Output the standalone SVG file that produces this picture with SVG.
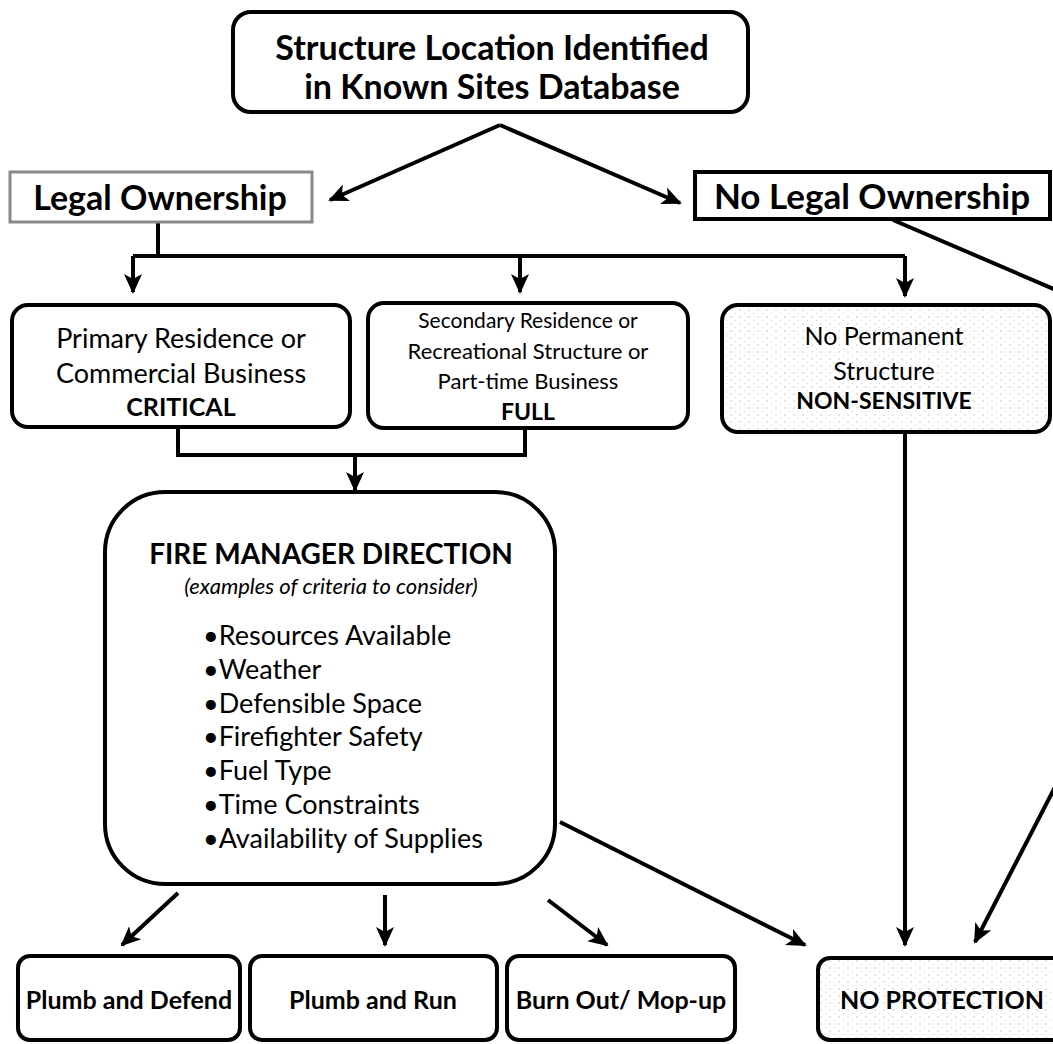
<svg xmlns="http://www.w3.org/2000/svg" width="1053" height="1044" viewBox="0 0 1053 1044">
<defs>
<marker id="ah" viewBox="0 0 20 20" refX="18" refY="10" markerWidth="20" markerHeight="20" markerUnits="userSpaceOnUse" orient="auto">
<path d="M0,1 L20,10 L0,19 L5,10 Z" fill="#000"/>
</marker>
<pattern id="dots" width="9" height="7" patternUnits="userSpaceOnUse">
<rect width="9" height="7" fill="#fff"/>
<circle cx="2" cy="2" r="0.7" fill="#bbb"/>
<circle cx="6.5" cy="5.5" r="0.6" fill="#ccc"/>
</pattern>
<style>
.box{fill:#fff;stroke:#000;stroke-width:4}
.dot{fill:url(#dots);stroke:#000;stroke-width:4}
.t{font-family:Lato,"Liberation Sans",sans-serif;fill:#000;text-anchor:middle}
.b{font-weight:bold}
.i{font-style:italic}
.l{text-anchor:start}
.c{fill:none;stroke:#000;stroke-width:4}
.a{fill:none;stroke:#000;stroke-width:4;marker-end:url(#ah)}
</style>
</defs>
<rect width="1053" height="1044" fill="#fff"/>

<g id="connectors">
<path class="a" d="M500,125 L330,200"/>
<path class="a" d="M500,125 L680,203"/>
<path class="c" d="M158,222 V256"/>
<path class="c" d="M133,256 H905"/>
<path class="a" d="M133,256 V292"/>
<path class="a" d="M520,256 V292"/>
<path class="a" d="M905,256 V296"/>
<path class="c" d="M893,220 L1056,290"/>
<path class="a" d="M1056,785 L975,942"/>
<path class="c" d="M178,427 V455 H525 V428"/>
<path class="a" d="M355,455 V490"/>
<path class="a" d="M905,432 V945"/>
<path class="a" d="M178,893 L122,945"/>
<path class="a" d="M385,895 V945"/>
<path class="a" d="M548,900 L607,945"/>
<path class="a" d="M560,822 L805,945"/>
</g>

<g id="n-top">
<rect class="box" x="233" y="12" width="515" height="100" rx="18"/>
<text class="t b" x="492" y="60" font-size="34">Structure Location Identified</text>
<text class="t b" x="492" y="99" font-size="34">in Known Sites Database</text>
</g>

<g id="n-legal">
<rect x="10" y="172" width="302" height="50" fill="#fff" stroke="#888" stroke-width="3"/>
<text class="t b" x="160" y="210" font-size="34">Legal Ownership</text>
</g>

<g id="n-nolegal">
<rect class="box" x="695" y="172" width="355" height="47"/>
<text class="t b" x="872" y="209" font-size="35">No Legal Ownership</text>
</g>

<g id="n-primary">
<rect class="box" x="12" y="305" width="338" height="122" rx="16"/>
<text class="t" x="181" y="348" font-size="27">Primary Residence or</text>
<text class="t" x="181" y="383" font-size="27">Commercial Business</text>
<text class="t b" x="181" y="416" font-size="25">CRITICAL</text>
</g>

<g id="n-secondary">
<rect class="box" x="368" y="303" width="320" height="125" rx="16"/>
<text class="t" x="528" y="328" font-size="21">Secondary Residence or</text>
<text class="t" x="528" y="359" font-size="22">Recreational Structure or</text>
<text class="t" x="528" y="389" font-size="22">Part-time Business</text>
<text class="t b" x="528" y="420" font-size="23">FULL</text>
</g>

<g id="n-nopermanent">
<rect class="dot" x="722" y="305" width="328" height="127" rx="16"/>
<text class="t" x="884" y="345" font-size="25">No Permanent</text>
<text class="t" x="884" y="380" font-size="25">Structure</text>
<text class="t b" x="884" y="409" font-size="23">NON-SENSITIVE</text>
</g>

<g id="n-fire">
<rect class="box" x="105" y="492" width="450" height="392" rx="60"/>
<text class="t b" x="331" y="564" font-size="28">FIRE MANAGER DIRECTION</text>
<text class="t i" x="331" y="594" font-size="22">(examples of criteria to consider)</text>
<text class="t l" x="203" y="645" font-size="27">•Resources Available</text>
<text class="t l" x="203" y="679" font-size="27">•Weather</text>
<text class="t l" x="203" y="713" font-size="27">•Defensible Space</text>
<text class="t l" x="203" y="746" font-size="27">•Firefighter Safety</text>
<text class="t l" x="203" y="780" font-size="27">•Fuel Type</text>
<text class="t l" x="203" y="814" font-size="27">•Time Constraints</text>
<text class="t l" x="203" y="848" font-size="27">•Availability of Supplies</text>
</g>

<g id="n-defend">
<rect class="box" x="18" y="956" width="222" height="84" rx="12"/>
<text class="t b" x="129" y="1009" font-size="25">Plumb and Defend</text>
</g>

<g id="n-run">
<rect class="box" x="250" y="956" width="247" height="84" rx="12"/>
<text class="t b" x="373" y="1009" font-size="25">Plumb and Run</text>
</g>

<g id="n-burn">
<rect class="box" x="507" y="956" width="228" height="84" rx="12"/>
<text class="t b" x="621" y="1009" font-size="25">Burn Out/ Mop-up</text>
</g>

<g id="n-noprot">
<rect class="dot" x="818" y="958" width="250" height="82" rx="12"/>
<text class="t b" x="942" y="1009" font-size="25">NO PROTECTION</text>
</g>
</svg>
